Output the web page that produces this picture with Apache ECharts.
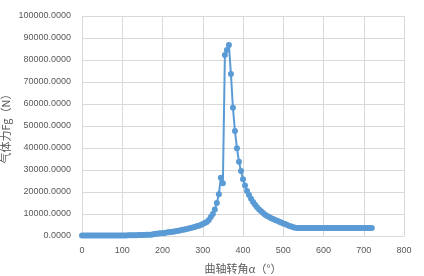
<!DOCTYPE html>
<html><head><meta charset="utf-8">
<script src="https://cdn.jsdelivr.net/npm/echarts@6/dist/echarts.min.js"></script>
<style>html,body{margin:0;padding:0;background:#fff}#c{width:424px;height:276px}</style>
</head><body><div id="c"></div>
<script>
const angles = [];
for (let a = 0; a <= 720; a += 5) angles.push(a);
const forceIntake = [200,200,200,200,200,200,200,200,200,200,200,200,200,200,200,200,200,200,200,220,240,260,280,300,320,340,360,380,400,430,460,490,520,560,600,650];           // 0..175
const forceCompression = [900,1000,1100,1200,1300,1420,1550,1680,1800,1950,2100,2250,2400,2600,2800,3000,3200,3400,3600,3850,4100,4400,4700,5000,5400,5900,6400,7300,8600,10000,12000,15000,19000,26500,24000]; // 180..350
const forcePeakExpansion = [82300,84500,86800,73600,58300,47700,39900,33800,29500,25800,23000,20500,18600,16900,15400,14200,13100,12100,11200,10400,9700,9100,8600,8100,7700,7300,6900,6500,6100,5700,5400,5000,4600,4300,4000,3800,3650]; // 355..535
const forceExhaust = [3600,3600,3600,3600,3600,3600,3600,3600,3600,3600,3600,3600,3600,3600,3600,3600,3600,3600,3600,3600,3600,3600,3600,3600,3600,3600,3600,3600,3600,3600,3600,3600,3600,3600,3600,3600,3600]; // 540..720
const forces = forceIntake.concat(forceCompression, forcePeakExpansion, forceExhaust);
const data = angles.map((a, i) => [a, forces[i]]);

const chart = echarts.init(document.getElementById('c'), null, {renderer: 'canvas'});
const txt = '#595959', grid = '#d9d9d9';
chart.setOption({
  animation: false,
  grid: {left: 82, right: 20, top: 16, bottom: 40, containLabel: false, outerBoundsMode: 'none'},
  xAxis: {
    type: 'value', min: 0, max: 800, interval: 100,
    name: '曲轴转角α（°）', nameLocation: 'middle', nameGap: 27, nameMoveOverlap: false,
    nameTextStyle: {color: txt, fontSize: 11, fontFamily: 'Noto Sans CJK SC'},
    axisLine: {show: true, lineStyle: {color: grid}},
    axisTick: {show: false},
    axisLabel: {color: txt, fontSize: 9, margin: 10, fontFamily: 'Liberation Sans'},
    splitLine: {show: true, lineStyle: {color: grid, width: 1}}
  },
  yAxis: {
    type: 'value', min: 0, max: 100000, interval: 10000,
    name: '气体力Fg（N）', nameLocation: 'middle', nameGap: 71, nameRotate: 90, nameMoveOverlap: false,
    nameTextStyle: {color: txt, fontSize: 11, fontFamily: 'Noto Sans CJK SC'},
    axisLine: {show: true, lineStyle: {color: grid}},
    axisTick: {show: false},
    axisLabel: {color: txt, fontSize: 9, margin: 11, fontFamily: 'Liberation Sans',
      formatter: v => v.toFixed(4)},
    splitLine: {show: true, lineStyle: {color: grid, width: 1}}
  },
  series: [{
    type: 'line', data: data, symbol: 'circle', symbolSize: 6,
    lineStyle: {color: '#5B9BD5', width: 2},
    itemStyle: {color: '#5B9BD5'}
  }]
});
</script></body></html>
